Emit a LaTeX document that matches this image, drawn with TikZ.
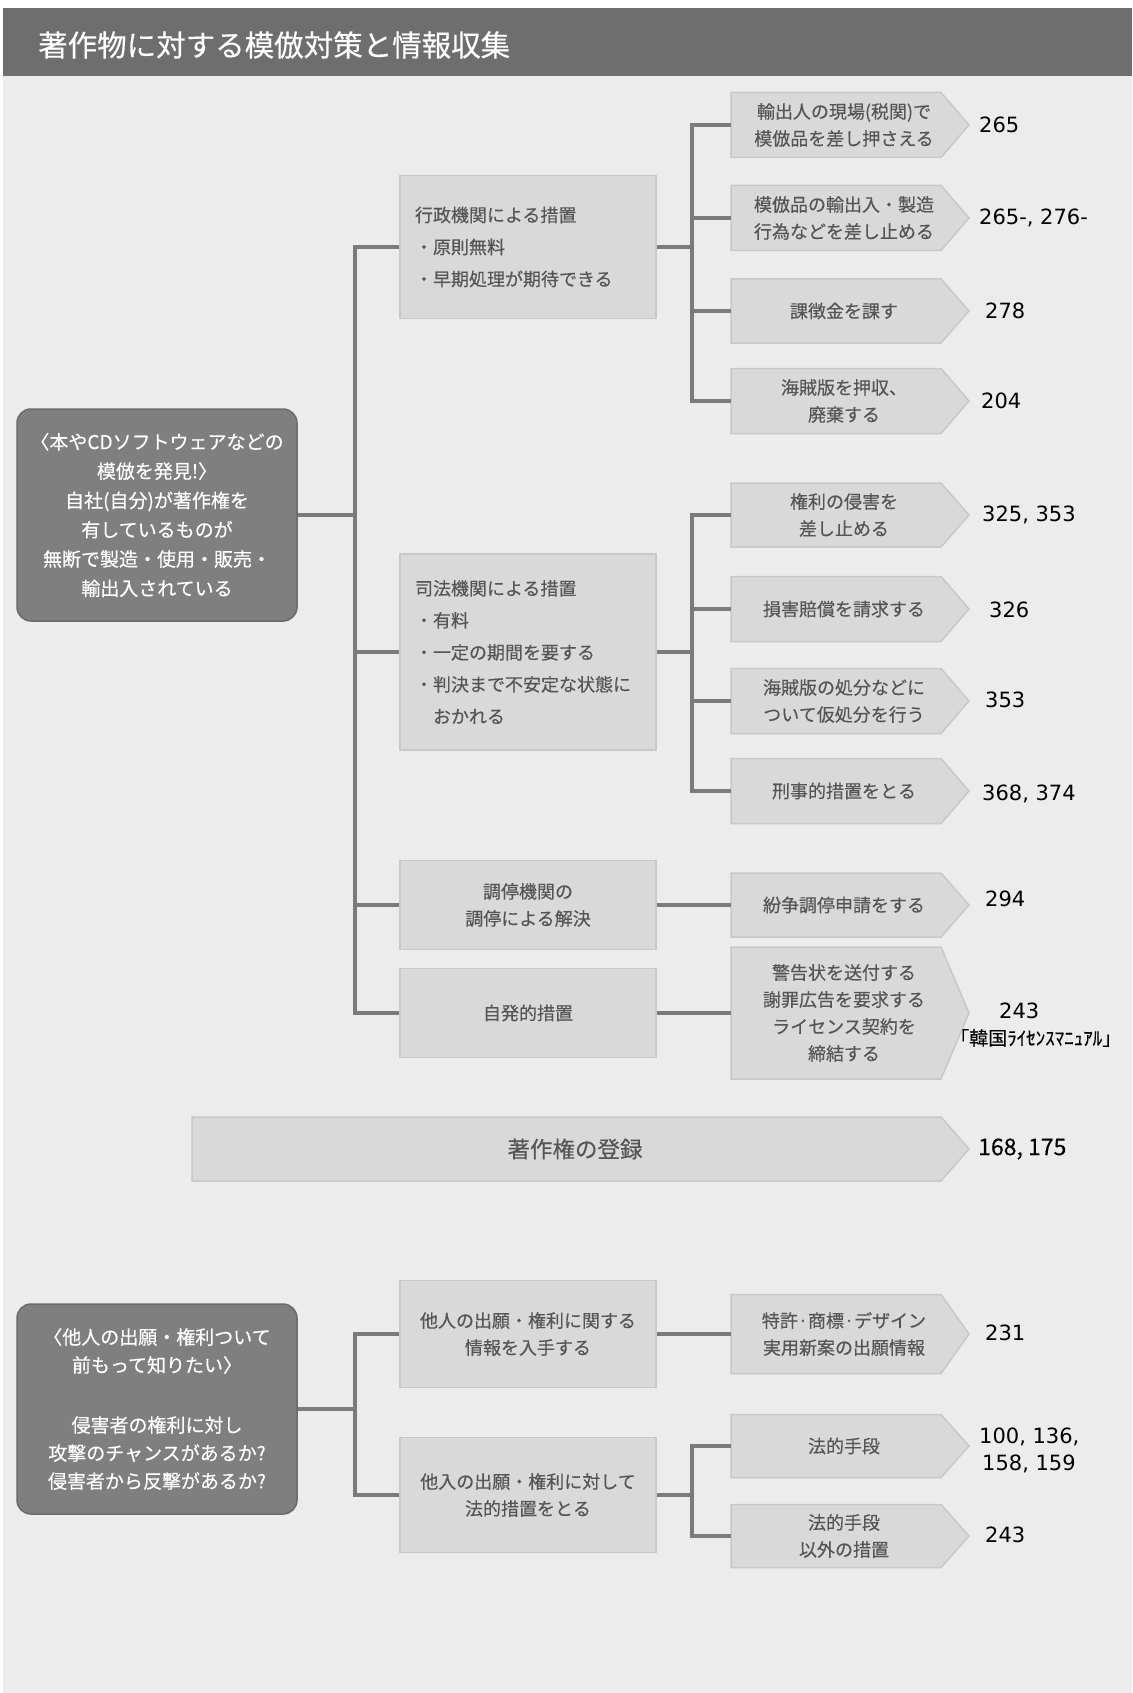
\documentclass[tikz,border=0pt]{standalone}
\usepackage{fontspec}
\setmainfont{Noto Sans CJK JP}[FakeBold=0.35]
\newfontfamily\numfont{DejaVu Sans}
\definecolor{bgc}{HTML}{ECECEC}
\definecolor{titlec}{HTML}{6E6E6E}
\definecolor{lboxc}{HTML}{7F7F7F}
\definecolor{lboxb}{HTML}{6A6A6A}
\definecolor{boxc}{HTML}{D9D9D9}
\definecolor{boxb}{HTML}{C8C8C8}
\definecolor{txtc}{HTML}{555555}
\definecolor{linec}{HTML}{7B7B7B}
\newcommand\rbox[4]{%
  \filldraw[rshape] (731,{#2-#3/2}) -- (941,{#2-#3/2}) -- (969,#2) -- (941,{#2+#3/2}) -- (731,{#2+#3/2}) -- cycle;
  \node[rtext] (#1) at (844,#2) {#4};
}
\begin{document}
\begin{tikzpicture}[x=1pt,y=-1pt,
  conn/.style={draw=linec, line width=4.5pt},
  lbox/.style={rectangle, rounded corners=14pt, fill=lboxc, draw=lboxb, line width=1.5pt,
    minimum width=280pt, text=white, align=center, font=\fontsize{19}{29.3}\selectfont},
  midbox/.style={rectangle, fill=boxc, draw=boxb, line width=1.5pt, minimum width=256pt,
    text=txtc, align=center, font=\fontsize{18}{27}\selectfont},
  midleft/.style={midbox, text width=226pt, inner xsep=15pt, align=left, font=\fontsize{18}{32}\selectfont},
  rshape/.style={fill=boxc, draw=boxb, line width=1.5pt},
  rtext/.style={rectangle, inner sep=0pt, minimum width=226pt, text=txtc, align=center,
    font=\fontsize{18}{27}\selectfont},
  num/.style={anchor=west, inner sep=0pt, text=black, font=\numfont\fontsize{21}{27}\selectfont, align=left}
]
\useasboundingbox (0,0) rectangle (1132,1693);
\fill[white] (0,0) rectangle (1132,1693);
\fill[bgc] (3,76) rectangle (1132,1693);
\fill[titlec] (3,8) rectangle (1132,76);
\node[anchor=west, inner sep=0pt, text=white, font=\fontsize{29.5}{30}\selectfont] (title) at (38,45) {著作物に対する模倣対策と情報収集};

% left boxes
\node[lbox, minimum height=212pt] (L1) at (157,515) {〈本やCDソフトウェアなどの\\模倣を発見!〉\\自社(自分)が著作権を\\有しているものが\\無断で製造・使用・販売・\\輸出入されている};
\node[lbox, minimum height=210pt, font=\fontsize{19}{28}\selectfont] (L2) at (157,1409) {〈他人の出願・権利ついて\\前もって知りたい〉\\[32pt]侵害者の権利に対し\\攻撃のチャンスがあるか?\\侵害者から反撃があるか?};

% middle boxes
\node[midleft, minimum height=143pt] (gyosei) at (528,247) {行政機関による措置\\・原則無料\\・早期処理が期待できる};
\node[midleft, minimum height=196pt] (shiho) at (528,652) {司法機関による措置\\・有料\\・一定の期間を要する\\・判決まで不安定な状態に\\\hspace*{1em}おかれる};
\node[midbox, minimum height=89pt] (chotei) at (528,905) {調停機関の\\調停による解決};
\node[midbox, minimum height=89pt] (jihatsu) at (528,1013) {自発的措置};
\node[midbox, minimum height=107pt] (tanin) at (528,1334) {他人の出願・権利に関する\\情報を入手する};
\node[midbox, minimum height=115pt] (taniu) at (528,1495) {他入の出願・権利に対して\\法的措置をとる};

% right arrow boxes
\rbox{r1}{125}{65}{輸出人の現場(税関)で\\模倣品を差し押さえる}
\rbox{r2}{218}{65}{模倣品の輸出入・製造\\行為などを差し止める}
\rbox{r3}{311}{64}{課徴金を課す}
\rbox{r4}{401}{65}{海賊版を押収、\\廃棄する}
\rbox{r5}{515}{64}{権利の侵害を\\差し止める}
\rbox{r6}{609}{65}{損害賠償を請求する}
\rbox{r7}{701}{65}{海賊版の処分などに\\ついて仮処分を行う}
\rbox{r8}{791}{65}{刑事的措置をとる}
\rbox{r9}{905}{64}{紛争調停申請をする}
\rbox{r10}{1013}{132}{警告状を送付する\\謝罪広告を要求する\\ライセンス契約を\\締結する}
\rbox{r11}{1334}{79}{特許·商標·デザイン\\実用新案の出願情報}
\rbox{r12}{1446}{63}{法的手段}
\rbox{r13}{1536}{63}{法的手段\\以外の措置}

% registration
\filldraw[rshape] (192,1117) -- (941,1117) -- (969,1149) -- (941,1181) -- (192,1181) -- cycle;
\node[inner sep=0pt, text=txtc, font=\fontsize{22.5}{27}\selectfont] (reg) at (575,1149) {著作権の登録};

% numbers
\node[num] (n1) at (979,125) {265};
\node[num] (n2) at (979,218) {265-, 276-};
\node[num] (n3) at (985,311) {278};
\node[num] (n4) at (981,401) {204};
\node[num] (n5) at (982,515) {325, 353};
\node[num] (n6) at (989,610) {326};
\node[num] (n7) at (985,700) {353};
\node[num] (n8) at (982,794) {368, 374};
\node[num] (n9) at (985,899) {294};
\node[num] (n10) at (999,1011) {243};
\node[anchor=west, inner sep=0pt, text=black, font=\fontsize{19}{24}\selectfont] (n10b) at (950,1038) {「韓国ﾗｲｾﾝｽﾏﾆｭｱﾙ」};
\node[anchor=west, inner sep=0pt, text=black, font=\fontsize{23}{27}\selectfont] (n11) at (978,1149) {168, 175};
\node[num] (n12) at (985,1333) {231};
\node[num] (n13) at (979,1450) {100, 136,\\\hspace*{3pt}158, 159};
\node[num] (n14) at (985,1535) {243};

% connectors: top tree
\draw[conn] (L1.east) -- ++(57,0) coordinate (t1);
\foreach \n in {gyosei,shiho,chotei,jihatsu} \draw[conn] (t1) |- (\n.west);
\draw[conn] (gyosei.east) -- ++(35,0) coordinate (t2);
\foreach \n in {r1,r2,r3,r4} \draw[conn] (t2) |- (\n.west);
\draw[conn] (shiho.east) -- ++(35,0) coordinate (t3);
\foreach \n in {r5,r6,r7,r8} \draw[conn] (t3) |- (\n.west);
\draw[conn] (chotei.east) -- (r9.west);
\draw[conn] (jihatsu.east) -- (r10.west);

% connectors: bottom tree
\draw[conn] (L2.east) -- ++(57,0) coordinate (t4);
\foreach \n in {tanin,taniu} \draw[conn] (t4) |- (\n.west);
\draw[conn] (tanin.east) -- (r11.west);
\draw[conn] (taniu.east) -- ++(35,0) coordinate (t5);
\foreach \n in {r12,r13} \draw[conn] (t5) |- (\n.west);
\end{tikzpicture}
\end{document}
